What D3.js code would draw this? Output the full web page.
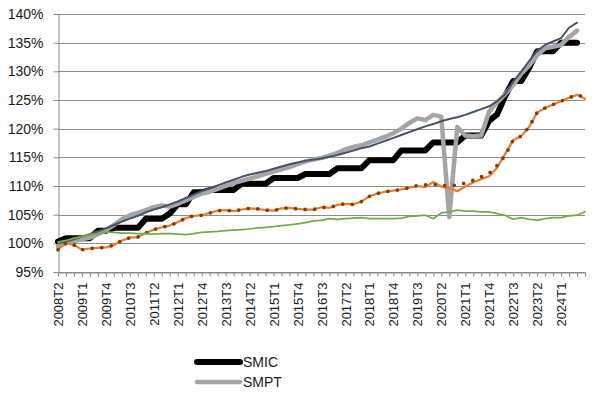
<!DOCTYPE html>
<html>
<head>
<meta charset="utf-8">
<script src="https://cdn.jsdelivr.net/npm/d3@7"></script>
<style>
  body { margin: 0; background: #fff; }
  svg text { font-family: "Liberation Sans", Arial, sans-serif; fill: #1a1a1a; }
</style>
</head>
<body>
<div id="chart"></div>
<script>
// quarters 2008T2 .. 2024T4 (last one has no label on the axis)
var quarters = [];
for (var yr = 2008; yr <= 2024; yr++) {
  for (var q = 1; q <= 4; q++) {
    if (yr == 2008 && q < 2) continue;
    quarters.push(yr + "T" + q);
  }
}

var yTicks = [95, 100, 105, 110, 115, 120, 125, 130, 135, 140];

var smic = [100.3, 100.9, 100.9, 100.9, 100.9, 102.2, 102.2, 102.7, 102.7, 102.7,
  102.7, 104.3, 104.3, 104.3, 105.2, 106.8, 106.8, 108.9, 108.9, 109.3,
  109.3, 109.3, 109.3, 110.4, 110.4, 110.4, 110.4, 111.4, 111.4, 111.4,
  111.4, 112.1, 112.1, 112.1, 112.1, 113.1, 113.1, 113.1, 113.1, 114.5,
  114.5, 114.5, 114.5, 116.2, 116.2, 116.2, 116.2, 117.6, 117.6, 117.6,
  117.6, 118.8, 118.8, 118.8, 121.4, 122.5, 125.7, 128.3, 128.3, 130.6,
  133.5, 133.5, 133.5, 135.0, 135.0, 135.0];

var smpt = [99.5, 100.0, 100.4, 100.7, 101.0, 101.6, 102.3, 103.2, 104.2, 104.9,
  105.3, 105.8, 106.3, 106.6, 106.4, 106.9, 107.5, 108.1, 108.7, 109.0,
  109.5, 110.0, 110.5, 110.9, 111.3, 111.7, 112.1, 112.5, 112.9, 113.3,
  113.8, 114.3, 114.6, 114.9, 115.3, 115.8, 116.4, 116.8, 117.1, 117.6,
  118.1, 118.6, 119.2, 120.0, 121.0, 121.8, 121.5, 122.4, 122.1, 104.6,
  120.3, 118.8, 118.7, 118.8, 123.0, 124.6, 126.0, 127.6, 129.6, 131.0,
  132.8, 134.0, 134.3, 134.6, 136.0, 137.1];

var navy = [100.0, 100.3, 100.7, 101.2, 101.6, 102.1, 102.6, 103.2, 103.8, 104.3,
  104.8, 105.4, 105.9, 106.3, 106.8, 107.3, 107.9, 108.5, 109.1, 109.6,
  110.1, 110.6, 111.1, 111.6, 112.0, 112.3, 112.6, 113.0, 113.4, 113.8,
  114.1, 114.4, 114.6, 114.8, 115.1, 115.4, 115.8, 116.2, 116.6, 116.9,
  117.4, 117.9, 118.4, 118.9, 119.4, 119.9, 120.4, 120.8, 121.3, 121.7,
  122.0, 122.4, 122.9, 123.4, 123.9, 124.8, 126.0, 128.2, 129.9, 131.8,
  133.6, 134.6, 135.2, 135.8, 137.6, 138.5];

var orange = [98.9, 100.1, 99.7, 98.9, 99.1, 99.2, 99.3, 99.7, 100.5, 101.0,
  101.1, 101.8, 102.4, 102.8, 103.1, 103.7, 104.4, 104.8, 104.9, 105.3,
  105.7, 105.8, 105.6, 105.9, 106.1, 106.0, 105.8, 105.7, 106.1, 106.2,
  106.0, 105.9, 105.9, 106.3, 106.2, 106.7, 106.9, 106.8, 107.3, 108.2,
  108.7, 109.0, 109.2, 109.4, 109.7, 110.0, 109.8, 110.7, 109.9, 109.6,
  109.1, 109.9, 110.6, 111.2, 111.7, 113.2, 115.6, 118.0, 118.7, 120.3,
  122.8, 123.6, 124.2, 124.8, 125.4, 125.9, 125.2];

var brown = [98.9, 100.1, 99.7, 98.9, 99.1, 99.2, 99.3, 99.7, 100.5, 101.0,
  101.1, 101.8, 102.4, 102.8, 103.1, 103.7, 104.4, 104.8, 104.9, 105.3,
  105.7, 105.8, 105.6, 105.9, 106.1, 106.0, 105.8, 105.7, 106.1, 106.2,
  106.0, 105.9, 105.9, 106.3, 106.2, 106.7, 106.9, 106.8, 107.3, 108.2,
  108.7, 109.0, 109.2, 109.4, 109.7, 110.1, 110.2, 110.3, 110.1, 110.0,
  110.2, 110.5, 111.0, 111.6, 112.2, 113.6, 115.3, 118.0, 118.7, 120.3,
  122.8, 123.6, 124.2, 124.8, 125.4, 125.9, 125.5];

var green = [100.2, 100.5, 100.9, 101.2, 101.5, 101.7, 102.0, 101.9, 101.8, 101.8,
  101.7, 101.7, 101.6, 101.7, 101.7, 101.6, 101.5, 101.7, 101.9, 102.0,
  102.1, 102.2, 102.3, 102.4, 102.5, 102.7, 102.8, 102.9, 103.1, 103.2,
  103.4, 103.6, 103.9, 104.0, 104.3, 104.2, 104.3, 104.4, 104.5, 104.3,
  104.3, 104.3, 104.3, 104.4, 104.7, 104.8, 104.9, 104.3, 105.3, 105.5,
  105.8, 105.6, 105.6, 105.5, 105.5, 105.2, 104.9, 104.2, 104.5, 104.2,
  104.0, 104.3, 104.5, 104.5, 104.8, 104.9, 105.5];

var width = 594, height = 396;
var svg = d3.select("#chart").append("svg")
    .attr("width", width)
    .attr("height", height);

var x = d3.scalePoint().domain(quarters).range([58, 585]);
var y = d3.scaleLinear().domain([95, 140]).range([272, 14]);

// gridlines
svg.append("g")
    .selectAll("line")
    .data(yTicks)
    .enter().append("line")
    .attr("x1", 58).attr("x2", 585)
    .attr("y1", function(d) { return Math.round(y(d)) + 0.5; })
    .attr("y2", function(d) { return Math.round(y(d)) + 0.5; })
    .attr("stroke", "#8c8c8c")
    .attr("stroke-width", 1);

// y axis
var yAxis = d3.axisLeft(y)
    .tickValues(yTicks)
    .tickSize(5)
    .tickPadding(10)
    .tickFormat(function(d) { return d + "%"; });

var gy = svg.append("g")
    .attr("transform", "translate(58.5,0)")
    .call(yAxis);
gy.select(".domain").attr("stroke", "#8c8c8c");
gy.selectAll(".tick line").attr("stroke", "#8c8c8c");
gy.selectAll("text").style("font-size", "14px").attr("fill", "#1a1a1a");

// x axis, one label every 3 quarters
var xAxis = d3.axisBottom(x)
    .tickSize(4)
    .tickSizeOuter(0)
    .tickFormat(function(d, i) { return (i % 3 == 0 && i < quarters.length - 1) ? d : ""; });

var gx = svg.append("g")
    .attr("transform", "translate(0," + (Math.round(y(95)) + 0.5) + ")")
    .call(xAxis);
gx.select(".domain").attr("stroke", "#8c8c8c");
gx.selectAll(".tick line").attr("stroke", "#8c8c8c");
gx.selectAll("text")
    .style("font-size", "13px")
    .attr("fill", "#1a1a1a")
    .style("text-anchor", "end")
    .attr("transform", "rotate(-90)")
    .attr("x", -10)
    .attr("y", 0)
    .attr("dy", "0.35em");

var line = d3.line()
    .x(function(d, i) { return x(quarters[i]); })
    .y(function(d) { return y(d); });

var series = [
  { name: "SMIC", values: smic, color: "#000000", w: 6 },
  { name: "SMPT", values: smpt, color: "#a5a5a5", w: 4.5 },
  { name: "navy", values: navy, color: "#44546a", w: 2 },
  { name: "orange", values: orange, color: "#ed7d31", w: 2.25 },
  { name: "brown", values: brown, color: "#843c0c", w: 3.75, dash: "0 9.6" },
  { name: "green", values: green, color: "#70ad47", w: 1.75 }
];

svg.append("g").selectAll("path")
    .data(series)
    .enter().append("path")
    .attr("d", function(d) { return line(d.values); })
    .attr("fill", "none")
    .attr("stroke", function(d) { return d.color; })
    .attr("stroke-width", function(d) { return d.w; })
    .attr("stroke-linejoin", "round")
    .attr("stroke-linecap", "round")
    .attr("stroke-dasharray", function(d) { return d.dash ? d.dash : null; });

// legend (only the first two entries fit in the picture)
var legend = svg.append("g");
var lg = legend.selectAll("g")
    .data(series.slice(0, 2))
    .enter().append("g")
    .attr("transform", function(d, i) { return "translate(197," + (362 + i * 20) + ")"; });
lg.append("line")
    .attr("x1", 0).attr("x2", 43)
    .attr("stroke", function(d) { return d.color; })
    .attr("stroke-width", function(d) { return d.w; })
    .attr("stroke-linecap", "round");
lg.append("text")
    .attr("x", 46)
    .attr("dy", "0.35em")
    .style("font-size", "14px")
    .text(function(d) { return d.name; });
</script>
</body>
</html>
